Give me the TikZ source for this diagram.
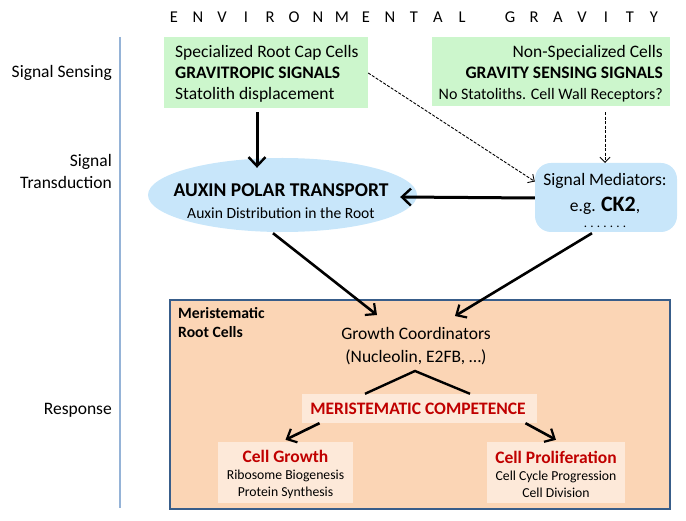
\documentclass[tikz,border=0pt]{standalone}
\usepackage{fontspec}
\setmainfont{Carlito}
\usetikzlibrary{arrows.meta,shapes.geometric,calc}
\definecolor{grn}{RGB}{204,246,204}
\definecolor{blu}{RGB}{200,230,250}
\definecolor{pch}{RGB}{251,213,181}
\definecolor{lpch}{RGB}{253,233,217}
\definecolor{dred}{RGB}{192,0,0}
\definecolor{bord}{RGB}{56,93,138}
\definecolor{axis}{RGB}{149,179,215}
\newcommand\lsp[1]{\makebox[24pt]{#1}}
\tikzset{
  lbl/.style={font=\fontsize{17.5}{22}\selectfont, align=right, anchor=east, inner sep=0pt},
  gbox/.style={fill=grn, inner sep=0pt},
  txt/.style={inner sep=0pt},
  bigarr/.style={line width=3pt, -{Straight Barb[length=9pt,width=17pt,line width=2.4pt]}},
  dasharr/.style={line width=0.9pt, dash pattern=on 3pt off 1.5pt, -{Straight Barb[length=5pt,width=10pt,line width=0.9pt]}},
  midarr/.style={line width=2.6pt, -{Straight Barb[length=8pt,width=15pt,line width=2.2pt]}},
  lbox/.style={fill=lpch, inner sep=0pt}
}
\begin{document}
\begin{tikzpicture}[x=1pt,y=-1pt]
\useasboundingbox (0,0) rectangle (686,521);
% title
\node[txt, font=\fontsize{16.5}{18}\selectfont] (title) at (414,17) {\lsp{E}\lsp{N}\lsp{V}\lsp{I}\lsp{R}\lsp{O}\lsp{N}\lsp{M}\lsp{E}\lsp{N}\lsp{T}\lsp{A}\lsp{L}\lsp{ }\lsp{G}\lsp{R}\lsp{A}\lsp{V}\lsp{I}\lsp{T}\lsp{Y}};
% axis
\coordinate (axtop) at (120,37);
\coordinate (axbot) at (120,508);
\draw[axis, line width=1.2pt] (axtop) -- (axbot);
\node[lbl] (ss) at (112,73) {Signal Sensing};
\node[lbl] (st) at (112,171) {Signal\\Transduction};
\node[lbl] (rs) at (112,410) {Response};
% green boxes
\node[gbox, minimum width=204pt, minimum height=71pt] (g1) at (266,72.5) {};
\node[txt, anchor=west, align=left, font=\fontsize{17.5}{21}\selectfont] (g1t) at (175,74) {Specialized Root Cap Cells\\\textbf{GRAVITROPIC SIGNALS}\\Statolith displacement};
\node[gbox, minimum width=238pt, minimum height=69pt] (g2) at (551,71.5) {};
\node[txt, anchor=east, align=right, font=\fontsize{17.5}{21}\selectfont] (g2t) at (663,74) {Non-Specialized Cells\\\textbf{GRAVITY SENSING SIGNALS}\\{\fontsize{16}{21}\selectfont No Statoliths. Cell Wall Receptors?}};
% ellipse
\node[ellipse, fill=blu, minimum width=269pt, minimum height=74pt, inner sep=0pt] (aux) at (282.5,195) {};
\node[txt, align=center, font=\fontsize{15.6}{22}\selectfont] (auxt) at (281,201) {{\fontsize{19.5}{22}\selectfont\textbf{AUXIN POLAR TRANSPORT}}\\Auxin Distribution in the Root};
% mediators
\node[fill=blu, rounded corners=16pt, minimum width=142pt, minimum height=69pt, inner sep=0pt] (med) at (606,197.5) {};
\node[txt, align=center, font=\fontsize{17.5}{26}\selectfont] (medt) at (605,193.5) {Signal Mediators:\\e.g. {\fontsize{22}{26}\selectfont\textbf{CK2}},};
\node[txt, font=\fontsize{13}{14}\selectfont, anchor=base] (medd) at (605,228) {\addfontfeature{LetterSpace=25}.......};
% orange box
\node[fill=pch, draw=bord, line width=1.8pt, minimum width=500pt, minimum height=209pt, inner sep=0pt] (mer) at (420,404.5) {};
\node[txt, anchor=north west, align=left, font=\fontsize{15.7}{19}\selectfont\bfseries] (merl) at (178,307) {Meristematic\\Root Cells};
\node[txt, align=center, font=\fontsize{17.5}{23}\selectfont] (gc) at (416,346) {Growth Coordinators\\(Nucleolin, E2FB, …)};
\node[lbox, minimum width=235pt, minimum height=29pt] (mc) at (419.5,408.5) {};
\node[txt, font=\fontsize{17.5}{20}\selectfont\bfseries, text=dred] (mct) at (418,409) {MERISTEMATIC COMPETENCE};
\node[lbox, minimum width=135pt, minimum height=61pt] (cg) at (285.5,472.5) {};
\node[txt, align=center, font=\fontsize{13.7}{17}\selectfont] (cgt) at (285.5,474) {{\fontsize{17.5}{20}\selectfont\bfseries\color{dred}Cell Growth}\\Ribosome Biogenesis\\Protein Synthesis};
\node[lbox, minimum width=138pt, minimum height=61pt] (cp) at (556,472.5) {};
\node[txt, align=center, font=\fontsize{13.7}{17}\selectfont] (cpt) at (556,474) {{\fontsize{17.5}{20}\selectfont\bfseries\color{dred}Cell Proliferation}\\Cell Cycle Progression\\Cell Division};
% connectors
\draw[bigarr] ($(g1.south)+(-9,4)$) -- ($(aux.north)+(-25.5,10)$);
\draw[dasharr] ($(g1.east)+(0,0.5)$) -- ($(med.west)+(0,-16)$);
\draw[dasharr] ($(g2.south)+(54,6)$) -- ($(med.north)+(-1,0)$);
\draw[bigarr] ($(med.west)+(0,0.5)$) -- ($(aux.east)+(-17,2)$);
\draw[midarr] ($(aux.south)+(-9.5,1)$) -- ($(gc.north)+(-39,-12)$);
\draw[midarr] ($(med.south)+(-14,1)$) -- ($(gc.north)+(39,-11)$);
\draw[line width=2.4pt] ($(mc.north)+(-54.5,0)$) -- ($(gc.south)+(-1,6)$) -- ($(mc.north)+(50.5,0)$);
\draw[midarr] ($(mc.south)+(-100,0)$) -- ($(cg.north)+(0,-2)$);
\draw[midarr] ($(mc.south)+(106,0)$) -- ($(cp.north)+(0,-2)$);
\end{tikzpicture}
\end{document}
